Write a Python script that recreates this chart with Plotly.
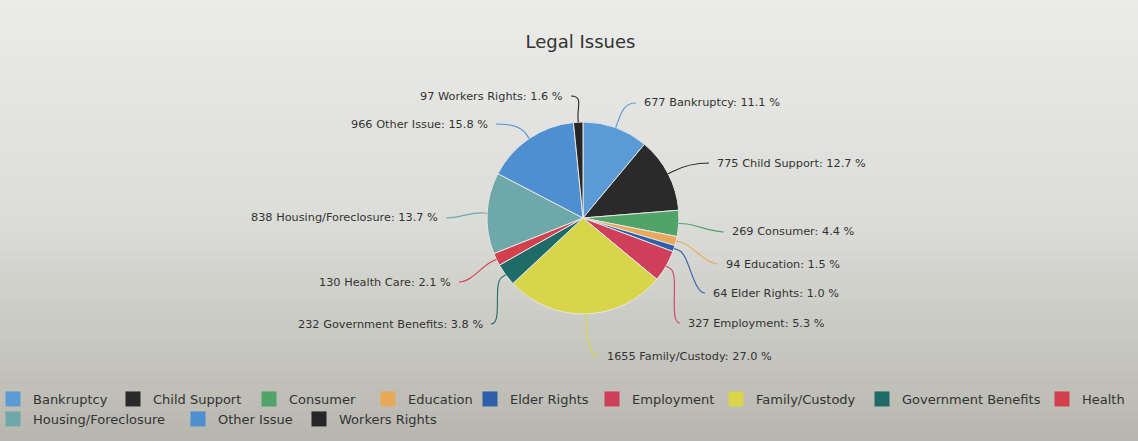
import math
import plotly.graph_objects as go

# ---------------- data ----------------
legend_names = ["Bankruptcy", "Child Support", "Consumer", "Education", "Elder Rights",
                "Employment", "Family/Custody", "Government Benefits", "Health",
                "Housing/Foreclosure", "Other Issue", "Workers Rights"]
label_names = ["Bankruptcy", "Child Support", "Consumer", "Education", "Elder Rights",
               "Employment", "Family/Custody", "Government Benefits", "Health Care",
               "Housing/Foreclosure", "Other Issue", "Workers Rights"]
counts = [677, 775, 269, 94, 64, 327, 1655, 232, 130, 838, 966, 97]
title_text = "Legal Issues"

# ---------------- style ----------------
W, H = 1138, 441
colors = ["#5a9ad6", "#2a2a2a", "#52a36a", "#e9a85a", "#2f5fa8", "#cf3f5a",
          "#d9d54a", "#1e6b68", "#d2404e", "#6fa8a8", "#4d8fd0", "#262626"]
FONT = "DejaVu Sans"
TEXT = "#333333"
CX, CY, R = 583, 218, 96          # pie centre / radius in pixels
# label anchor (pixel) positions and side, one per slice (layout only)
label_pos = [(642, 103, "l"), (715, 163, "l"), (730, 232, "l"), (724, 264, "l"),
             (711, 293, "l"), (686, 323, "l"), (605, 356, "l"), (485, 324, "r"),
             (453, 282, "r"), (440, 218, "r"), (490, 124, "r"), (565, 96, "r")]
# legend entry placement (pixel: left edge of swatch, row centre) – layout only
legend_pos = [(7, 399), (127, 399), (263, 399), (382, 399), (484, 399), (606, 399),
              (730, 399), (876, 399), (1056, 399), (7, 419), (192, 419), (313, 419)]
LEG_FONT = 13


def px(x):
    return x / W


def py(y):
    return 1 - y / H


total = sum(counts)
texts = [f"{v} {n}: {v / total * 100:.1f} %" for v, n in zip(counts, label_names)]

fig = go.Figure()
fig.add_trace(go.Pie(
    labels=legend_names, values=counts, sort=False, direction="clockwise", rotation=0,
    marker=dict(colors=colors, line=dict(color="#e6e6e4", width=1)),
    textinfo="none", hoverinfo="label+value+percent", showlegend=False,
    domain=dict(x=[px(CX - 160), px(CX + 160)], y=[py(CY + R), py(CY - R)]),
))

# legend entries (legend-only marker traces, same colours as the slices)
legend_layout = {}
for i, (name, col, (lx, ly)) in enumerate(zip(legend_names, colors, legend_pos)):
    key = "legend" if i == 0 else f"legend{i + 1}"
    fig.add_trace(go.Scatter(x=[None], y=[None], mode="markers", name=name, legend=key,
                             marker=dict(symbol="square", size=15, color=col),
                             hoverinfo="skip"))
    legend_layout[key] = dict(orientation="h", xanchor="left", yanchor="middle",
                              x=px(lx - 14), y=py(ly),
                              font=dict(family=FONT, size=LEG_FONT, color=TEXT),
                              bgcolor="rgba(0,0,0,0)", itemclick=False,
                              itemdoubleclick=False)

shapes = []
# background gradient of the photographed screen
top, mid, bot = (235, 236, 233), (220, 221, 217), (183, 182, 174)
nb = 44
for i in range(nb):
    t = (i + 0.5) / nb
    if t < 0.5:
        a, b, f = top, mid, t / 0.5
    else:
        a, b, f = mid, bot, (t - 0.5) / 0.5
    c = tuple(int(round(a[k] + (b[k] - a[k]) * f)) for k in range(3))
    shapes.append(dict(type="rect", xref="paper", yref="paper", x0=0, x1=1,
                       y0=1 - (i + 1) / nb - 0.002, y1=1 - i / nb, layer="below",
                       line=dict(width=0), fillcolor=f"rgb{c}"))

annotations = []
cum = 0
for v, txt, col, (lx, ly, side) in zip(counts, texts, colors, label_pos):
    mid_frac = (cum + v / 2) / total
    cum += v
    th = 2 * math.pi * mid_frac
    ux, uy = math.sin(th), -math.cos(th)
    ex, ey = CX + R * ux, CY + R * uy
    p1x, p1y = ex + 5 * ux, ey + 5 * uy
    c1x, c1y = ex + 16 * ux, ey + 16 * uy
    tx = lx - 6 if side == "l" else lx + 6
    c2x = tx - 12 if side == "l" else tx + 12
    path = (f"M {px(ex)} {py(ey)} L {px(p1x)} {py(p1y)} "
            f"C {px(c1x)} {py(c1y)} {px(c2x)} {py(ly)} {px(tx)} {py(ly)}")
    shapes.append(dict(type="path", xref="paper", yref="paper", path=path,
                       line=dict(color=col, width=1.1), layer="above"))
    annotations.append(dict(xref="paper", yref="paper", x=px(lx), y=py(ly), text=txt,
                            showarrow=False, xanchor="left" if side == "l" else "right",
                            yanchor="middle", font=dict(family=FONT, size=11.3, color=TEXT)))

fig.update_layout(
    width=W, height=H, margin=dict(l=0, r=0, t=0, b=0, autoexpand=False),
    paper_bgcolor="#dcddd9", plot_bgcolor="rgba(0,0,0,0)",
    title=dict(text=title_text, x=px(580.5), xanchor="center", y=py(42), yanchor="middle",
               font=dict(family=FONT, size=18, color=TEXT)),
    xaxis=dict(visible=False), yaxis=dict(visible=False),
    shapes=shapes, annotations=annotations,
    showlegend=True,
    **legend_layout,
)

fig.write_html("out.html", config={"displayModeBar": False},
               post_script="document.body.style.margin='0';"
                           "document.body.style.overflow='hidden';")
